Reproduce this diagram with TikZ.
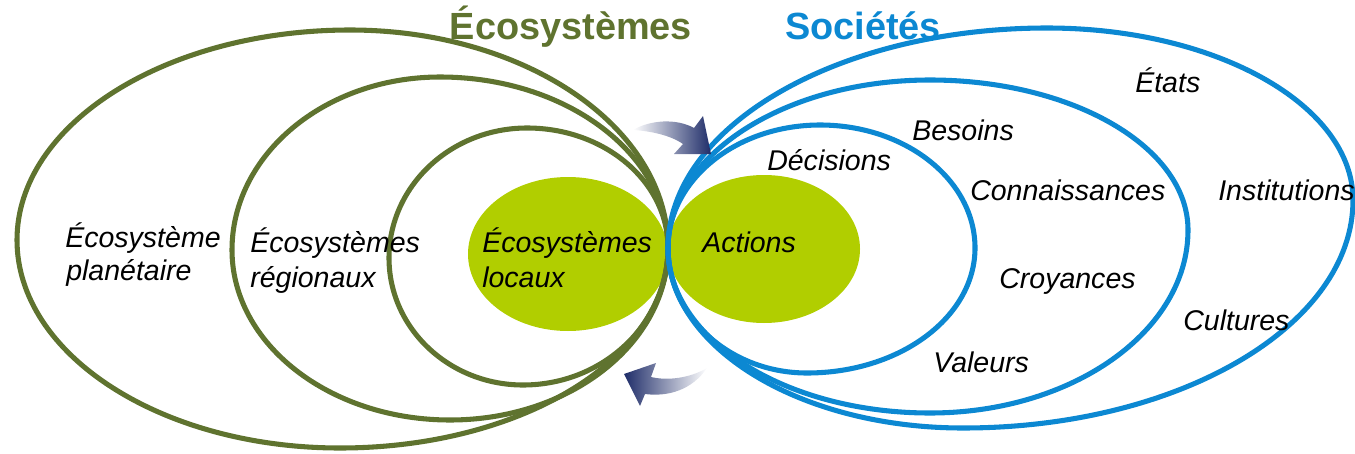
\documentclass[tikz,border=0pt]{standalone}
\usepackage{fontspec}
\setmainfont{Liberation Sans}
\definecolor{ecogreen}{RGB}{95,115,47}
\definecolor{socblue}{RGB}{12,136,210}
\definecolor{limefill}{RGB}{177,206,0}
\definecolor{navyarrow}{RGB}{31,45,105}
\newcommand\eggshape[9]{%
  \draw[#1] (#2,#3) .. controls (#2,{#3-0.5523*(#3-#5)}) and ({#4-0.5523*(#4-#2)},#5) .. (#4,#5)
    .. controls ({#4+0.5523*(#6-#4)},#5) and (#6,{#7-0.5523*(#7-#5)}) .. (#6,#7)
    .. controls (#6,{#7+0.5523*(#9-#7)}) and ({#8+0.5523*(#6-#8)},#9) .. (#8,#9)
    .. controls ({#8-0.5523*(#8-#2)},#9) and (#2,{#3+0.5523*(#9-#3)}) .. cycle;}
\begin{document}
\begin{tikzpicture}[x=0.75pt,y=-0.75pt,
  greenline/.style={draw=ecogreen,line width=3.8pt},
  blueline/.style={draw=socblue,line width=3.8pt},
  lbl/.style={font=\fontsize{21.4}{25}\selectfont\itshape,anchor=base west,inner sep=0pt,text=black},
  ttl/.style={font=\fontsize{28.4}{32}\selectfont\bfseries,anchor=base,inner sep=0pt}]
\useasboundingbox (0,0) rectangle (1355,453);
% filled centres
\fill[limefill] (568,254) ellipse [x radius=100, y radius=77];
\fill[limefill] (764,249) ellipse [x radius=96, y radius=74];
% ecosystem rings
\eggshape{greenline}{17}{240}{350}{30}{668}{248}{340}{448}
\eggshape{greenline}{232}{250}{440}{77}{668}{248}{450}{420}
\eggshape{greenline}{389}{258}{527}{128}{668}{248}{523}{385}
% society rings
\eggshape{blueline}{668}{248}{820}{125}{975}{248}{807}{373}
\eggshape{blueline}{668}{248}{930}{80}{1188}{230}{930}{413}
\eggshape{blueline}{668}{248}{1047}{28}{1353}{200}{963}{428}
% arrows
\shade[left color=white,middle color=navyarrow!80,right color=navyarrow] (633,130) .. controls (650,120) and (676,118) .. (694,128) -- (703,116) -- (711,154) -- (674,154) -- (683,144) .. controls (670,135) and (650,131) .. cycle;
\shade[left color=navyarrow,middle color=navyarrow!80,right color=white] (707,368) .. controls (690,378) and (668,381) .. (651,377) -- (656,363) -- (624,374) -- (640,406) -- (645,394) .. controls (668,397) and (692,390) .. cycle;
% titles
\node[ttl,text=ecogreen] (teco) at (571,40) {Écosystèmes};
\node[ttl,text=socblue] (tsoc) at (863,40) {Sociétés};
% labels
\node[lbl] (plan1) at (65,247) {Écosystème};
\node[lbl] (plan2) at (66,280) {planétaire};
\node[lbl] (reg1) at (250,252) {Écosystèmes};
\node[lbl] (reg2) at (250,287) {régionaux};
\node[lbl] (loc1) at (482,252) {Écosystèmes};
\node[lbl] (loc2) at (482,287) {locaux};
\node[lbl] (act) at (702,252) {Actions};
\node[lbl] (dec) at (767,170) {Décisions};
\node[lbl] (bes) at (912,140) {Besoins};
\node[lbl] (con) at (970,200) {Connaissances};
\node[lbl] (cro) at (999,288) {Croyances};
\node[lbl] (val) at (933,372) {Valeurs};
\node[lbl] (eta) at (1135,93) {États};
\node[lbl] (ins) at (1218,200) {Institutions};
\node[lbl] (cul) at (1183,330) {Cultures};
\end{tikzpicture}
\end{document}
